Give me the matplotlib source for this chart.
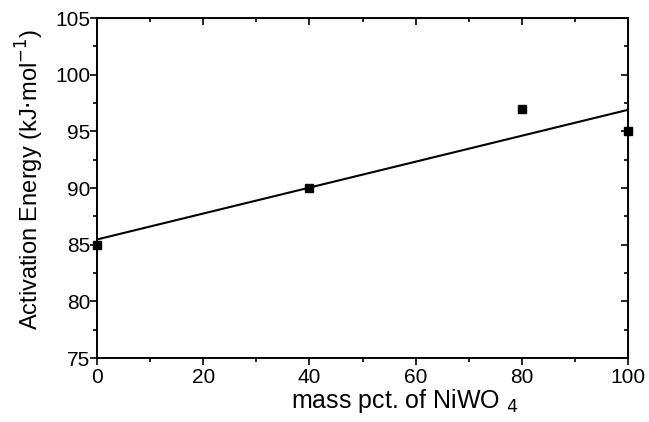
import numpy as np
import matplotlib
matplotlib.use("Agg")
import matplotlib.pyplot as plt
from matplotlib.ticker import MultipleLocator

plt.rcParams['font.family'] = ['Liberation Sans', 'DejaVu Sans']

mass_pct = [0, 40, 80, 100]
energy = [85.0, 90.0, 97.0, 95.0]

fig = plt.figure(figsize=(6.49, 4.22), dpi=100)
ax = fig.add_axes([97/649, 1-358/422, (628-97)/649, (358-18)/422])

slope, intercept = np.polyfit(mass_pct, energy, 1)
xf = np.array([0, 100])
ax.plot(xf, intercept + slope*xf, color='black', lw=1.5)
ax.plot(mass_pct, energy, 's', color='black', ms=6, clip_on=False, zorder=5)

ax.set_xlim(0, 100)
ax.set_ylim(75, 105)
ax.xaxis.set_major_locator(MultipleLocator(20))
ax.xaxis.set_minor_locator(MultipleLocator(10))
ax.yaxis.set_major_locator(MultipleLocator(5))
ax.yaxis.set_minor_locator(MultipleLocator(2.5))
ax.tick_params(which='both', direction='out', top=False, right=False, labelsize=15, width=1.2)
ax.tick_params(which='major', length=5)
ax.tick_params(which='minor', length=3)
ax.tick_params(axis='x', pad=2)
ax.tick_params(axis='y', pad=0)
for s in ax.spines.values():
    s.set_linewidth(1.4)

# inward ticks on top and right
axt = ax.secondary_xaxis('top')
axt.xaxis.set_major_locator(MultipleLocator(20))
axt.xaxis.set_minor_locator(MultipleLocator(10))
axt.tick_params(which='both', direction='in', labeltop=False, width=1.2)
axt.tick_params(which='major', length=5)
axt.tick_params(which='minor', length=3)
axr = ax.secondary_yaxis('right')
axr.yaxis.set_major_locator(MultipleLocator(5))
axr.yaxis.set_minor_locator(MultipleLocator(2.5))
axr.tick_params(which='both', direction='in', labelright=False, width=1.2)
axr.tick_params(which='major', length=5)
axr.tick_params(which='minor', length=3)

ax.set_xlabel('mass pct. of NiWO$\\;_{4}$', fontsize=18)
ax.xaxis.set_label_coords(0.58, -0.147, transform=ax.transAxes)
ax.xaxis.label.set_va('baseline')
ax.set_ylabel('Activation Energy (kJ$\\cdot$mol$^{-1}$)', fontsize=17)
ax.yaxis.set_label_coords(-0.096, 0.524, transform=ax.transAxes)

fig.savefig('out.png', dpi=100)
